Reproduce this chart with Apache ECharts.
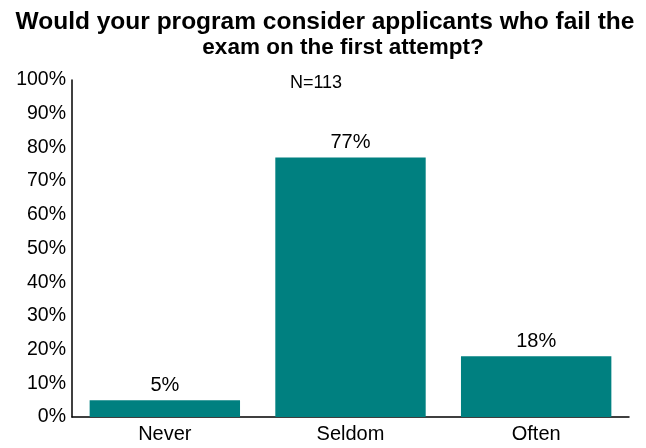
<!DOCTYPE html>
<html>
<head>
<meta charset="utf-8">
<script src="https://cdn.jsdelivr.net/npm/echarts@6/dist/echarts.min.js"></script>
<style>
    html, body { margin: 0; padding: 0; background: #fff; }
    #chart { width: 646px; height: 448px; }
</style>
</head>
<body>
<div id="chart"></div>
<script>
var categories = ['Never', 'Seldom', 'Often'];
var values = [5, 77, 18];

var myChart = echarts.init(document.getElementById('chart'));

var option = {
    animation: false,
    title: [
        {
            text: 'Would your program consider applicants who fail the',
            left: 320,
            top: 5,
            textAlign: 'center',
            textStyle: {
                fontFamily: 'Liberation Sans',
                fontSize: 24.5,
                fontWeight: 'bold',
                color: '#000'
            }
        },
        {
            text: 'exam on the first attempt?',
            left: 338,
            top: 31,
            textAlign: 'center',
            textStyle: {
                fontFamily: 'Liberation Sans',
                fontSize: 22.5,
                fontWeight: 'bold',
                color: '#000'
            }
        },
        {
            text: 'N=113',
            left: 311,
            top: 69,
            textAlign: 'center',
            textStyle: {
                fontFamily: 'Liberation Sans',
                fontSize: 18,
                fontWeight: 'normal',
                color: '#000'
            }
        }
    ],
    grid: {
        left: 72,
        right: 17,
        top: 80,
        bottom: 31,
        containLabel: false
    },
    xAxis: {
        type: 'category',
        data: categories,
        axisLine: { lineStyle: { color: '#000', width: 1.5 } },
        axisTick: { show: false },
        axisLabel: {
            fontFamily: 'Liberation Sans',
            fontSize: 20,
            color: '#000',
            margin: 7
        }
    },
    yAxis: {
        type: 'value',
        min: 0,
        max: 100,
        interval: 10,
        splitLine: { show: false },
        axisLine: { show: true, lineStyle: { color: '#000', width: 1.5 } },
        axisTick: { show: false },
        axisLabel: {
            formatter: '{value}%',
            fontFamily: 'Liberation Sans',
            fontSize: 19.5,
            color: '#000',
            margin: 6
        }
    },
    series: [
        {
            type: 'bar',
            data: values,
            barWidth: '81%',
            itemStyle: { color: '#008080' },
            label: {
                show: true,
                position: 'top',
                formatter: '{c}%',
                fontFamily: 'Liberation Sans',
                fontSize: 20,
                color: '#000',
                distance: 5
            }
        }
    ]
};

myChart.setOption(option);
</script>
</body>
</html>
